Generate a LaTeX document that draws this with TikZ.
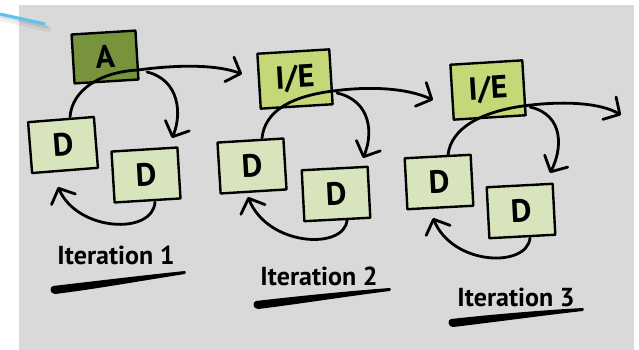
\documentclass[tikz,border=0pt]{standalone}
\usepackage{fontspec}
\setmainfont{PT Sans}
\usetikzlibrary{arrows.meta}
\definecolor{panel}{HTML}{D9D9D9}
\definecolor{darkleaf}{HTML}{77943D}
\definecolor{midleaf}{HTML}{C4D878}
\definecolor{paleleaf}{HTML}{D7E4BC}
\definecolor{pointer}{HTML}{5BC3EE}
\begin{document}
\begin{tikzpicture}[x=1pt,y=-1pt,
  box/.style={draw=black, line width=2.4pt, line join=round, inner sep=0pt,
    font=\bfseries\fontsize{32}{32}\selectfont},
  dbox/.style={box, fill=paleleaf, minimum width=66pt, minimum height=51pt},
  iebox/.style={box, fill=midleaf, minimum width=72pt, minimum height=55pt},
  abox/.style={box, fill=darkleaf, minimum width=64pt, minimum height=49pt},
  link/.style={line width=2.8pt, line cap=round},
  flow/.style={link, -{Straight Barb[length=12pt,width=26pt,round]}},
  tag/.style={font=\bfseries\fontsize{26}{26}\selectfont, inner sep=0pt},
  brush/.style={fill=black}]

% canvas and grey panel
\fill[white] (0,0) rectangle (639,350);
\useasboundingbox (0,0) rectangle (639,350);
\fill[panel] (19,5) rectangle (634,350);

% blue pointer stub with its soft shadow
\draw[line width=6pt, black, opacity=0.06, line cap=round] (0,18) -- (48,29);
\draw[line width=3pt, black, opacity=0.08, line cap=round] (0,16) -- (47,27);
\draw[line width=3pt, pointer] (0,14) -- (45,24);

% iteration 1
\node[abox, rotate=3.5] (A1) at (105,57) {A};
\node[dbox, rotate=4.5] (D1a) at (63,145) {D};
\node[dbox, rotate=3.5] (D1b) at (146,175) {D};

% iteration 2
\node[iebox, rotate=3.5] (IE2) at (295,79) {I/E};
\node[dbox, rotate=3.5] (D2a) at (252,166) {D};
\node[dbox, rotate=3] (D2b) at (336,194) {D};

% iteration 3
\node[iebox, rotate=3.5] (IE3) at (488,90) {I/E};
\node[dbox, rotate=3] (D3a) at (439,182) {D};
\node[dbox, rotate=3] (D3b) at (521,211) {D};
\coordinate (out3) at (621,115);

% loops of iteration 1
\draw[flow] ([shift={(7,-28)}]D1a.center) .. controls +(2,-27) and +(-38,2) ..
  ([shift={(33,13)}]A1.center) .. controls +(37,-5) and +(-27,-10) ..
  ([shift={(-53,-5)}]IE2.center);
\draw[flow] ([shift={(42,15)}]A1.center) .. controls +(33,8) and +(10,-23) ..
  ([shift={(26,-37)}]D1b.center);
\draw[flow] ([shift={(9,27)}]D1b.center) .. controls +(-2,33) and +(20,45) ..
  ([shift={(-5,42)}]D1a.center);

% loops of iteration 2
\draw[flow] ([shift={(10,-28)}]D2a.center) .. controls +(3,-28) and +(-40,5) ..
  ([shift={(38,12)}]IE2.center) .. controls +(37,-5) and +(-26,-12) ..
  ([shift={(-55,10)}]IE3.center);
\draw[flow] ([shift={(42,14)}]IE2.center) .. controls +(35,8) and +(10,-23) ..
  ([shift={(27,-36)}]D2b.center);
\draw[flow] ([shift={(11,26)}]D2b.center) .. controls +(-2,30) and +(20,50) ..
  ([shift={(-4,31)}]D2a.center);

% loops of iteration 3
\draw[flow] ([shift={(9,-27)}]D3a.center) .. controls +(3,-27) and +(-42,6) ..
  ([shift={(35,16)}]IE3.center) .. controls +(37,-5) and +(-22,-13) .. (out3);
\draw[flow] ([shift={(42,17)}]IE3.center) .. controls +(35,8) and +(12,-23) ..
  ([shift={(29,-38)}]D3b.center);
\draw[flow] ([shift={(9,27)}]D3b.center) .. controls +(-3,30) and +(20,48) ..
  ([shift={(-6,36)}]D3a.center);

% captions with brush-stroke underlines
\node[tag] (L1) at (116,255) {Iteration 1};
\node[tag] (L2) at (319,276) {Iteration 2};
\node[tag] (L3) at (516,297) {Iteration 3};

\begin{scope}[shift={(L1.center)}]
  \fill[brush] (-63,31) .. controls (-20,26) and (30,20) .. (69,16)
    .. controls (70,17) .. (69,19)
    .. controls (30,25) and (-20,34) .. (-61,39)
    .. controls (-66,39) and (-67,32) .. (-63,31) -- cycle;
\end{scope}
\begin{scope}[shift={(L2.center)}]
  \fill[brush] (-63,25) .. controls (-20,20) and (30,15) .. (71,12)
    .. controls (72,13) .. (71,15)
    .. controls (30,20) and (-20,28) .. (-61,33)
    .. controls (-66,33) and (-67,26) .. (-63,25) -- cycle;
\end{scope}
\begin{scope}[shift={(L3.center)}]
  \fill[brush] (-65,22) .. controls (-20,17) and (30,13) .. (67,11)
    .. controls (68,12) .. (67,14)
    .. controls (30,18) and (-20,25) .. (-63,30)
    .. controls (-68,30) and (-69,23) .. (-65,22) -- cycle;
\end{scope}
\end{tikzpicture}
\end{document}
